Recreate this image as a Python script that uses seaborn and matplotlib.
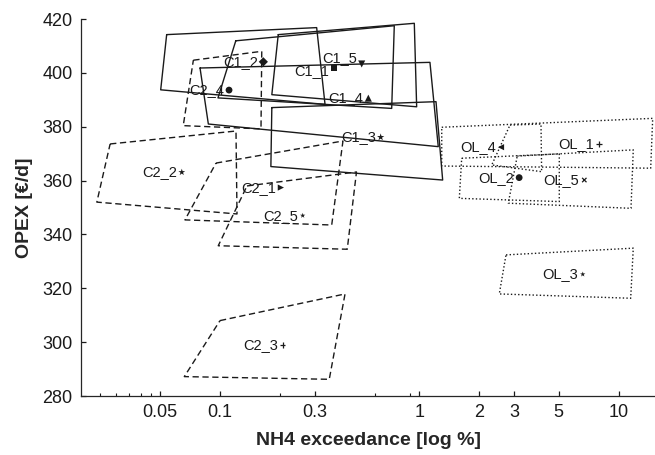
import matplotlib
matplotlib.use("Agg")
import matplotlib.pyplot as plt
import matplotlib.ticker as mticker
import seaborn as sns
import pandas as pd

# ---- data -------------------------------------------------------------
names = ['C1_1', 'C1_2', 'C1_3', 'C1_4', 'C1_5',
         'C2_1', 'C2_2', 'C2_3', 'C2_4', 'C2_5',
         'OL_1', 'OL_2', 'OL_3', 'OL_4', 'OL_5']
groups = ['C1'] * 5 + ['C2'] * 5 + ['OL'] * 5

nh4 = [0.373, 0.165, 0.640, 0.555, 0.514,
       0.202, 0.0643, 0.206, 0.111, 0.260,
       8.0, 3.17, 6.61, 2.57, 6.73]
opex = [401.7, 404.1, 376.1, 390.6, 403.3,
        357.4, 363.1, 298.9, 393.6, 347.0,
        373.5, 361.1, 325.2, 372.4, 360.2]

# uncertainty polygons (4 corners each, same order as names)
poly_nh4 = [
    [0.196, 0.944, 0.970, 0.182],
    [0.054, 0.3055, 0.3365, 0.0504],
    [0.182, 1.213, 1.31, 0.180],
    [0.0794, 1.131, 1.245, 0.0874],
    [0.120, 0.749, 0.727, 0.0977],
    [0.0955, 0.414, 0.3635, 0.0667],
    [0.0281, 0.1203, 0.1217, 0.0241],
    [0.100, 0.424, 0.3534, 0.0662],
    [0.0735, 0.162, 0.1606, 0.0654],
    [0.1366, 0.484, 0.435, 0.098],
    [1.296, 14.83, 14.49, 1.296],
    [1.632, 5.04, 5.04, 1.588],
    [2.723, 11.85, 11.5, 2.52],
    [2.851, 4.08, 4.11, 2.31],
    [3.10, 11.85, 11.54, 2.797],
]
poly_opex = [
    [414.2, 418.4, 387.4, 391.9],
    [414.2, 416.8, 388.3, 393.7],
    [387.1, 389.3, 360.2, 365.2],
    [401.8, 403.9, 372.6, 381.0],
    [411.9, 417.5, 386.8, 390.7],
    [366.5, 374.7, 343.5, 345.4],
    [373.6, 378.4, 347.6, 352.0],
    [308.0, 317.9, 286.2, 287.2],
    [404.7, 408.0, 379.2, 380.4],
    [358.0, 363.2, 334.5, 335.8],
    [379.8, 383.1, 364.6, 365.4],
    [368.3, 369.9, 352.2, 353.4],
    [332.4, 334.9, 316.3, 317.9],
    [380.6, 381.0, 363.3, 365.8],
    [369.1, 371.4, 349.7, 351.6],
]

x_major = [0.05, 0.1, 0.3, 1, 2, 3, 5, 10]
x_major_labels = ['0.05', '0.1', '0.3', '1', '2', '3', '5', '10']
x_minor = [0.025, 0.03, 0.035, 0.04, 0.045, 0.2, 0.6, 0.9]
y_ticks = [280, 300, 320, 340, 360, 380, 400, 420]

# ---- style ------------------------------------------------------------
markers = {'C1_1': 's', 'C1_2': 'D', 'C1_3': '*', 'C1_4': '^', 'C1_5': 'v',
           'C2_1': '>', 'C2_2': '*', 'C2_3': '+', 'C2_4': 'o', 'C2_5': '*',
           'OL_1': '+', 'OL_2': 'o', 'OL_3': '*', 'OL_4': '<', 'OL_5': 'x'}
msize = {'C1_1': 18, 'C1_2': 22, 'C1_3': 30, 'C1_4': 26, 'C1_5': 26,
         'C2_1': 20, 'C2_2': 26, 'C2_3': 16, 'C2_4': 24, 'C2_5': 16,
         'OL_1': 16, 'OL_2': 24, 'OL_3': 16, 'OL_4': 20, 'OL_5': 10}
# label offsets in points (dx, dy)
label_offset = {'C1_1': (-3.5, -1.8), 'C1_5': (-3.5, 4.5)}

sns.set_theme(style='ticks')
plt.rcParams['font.family'] = ['Liberation Sans', 'DejaVu Sans']
plt.rcParams['axes.linewidth'] = 0.9

fig = plt.figure(figsize=(6.55, 4.55), dpi=100)
ax = fig.add_axes([81 / 655, 59 / 455, (655 - 81) / 655, 377 / 455])

# polygons as closed lines
rows = []
for n, g, xs, ys in zip(names, groups, poly_nh4, poly_opex):
    for i, (xv, yv) in enumerate(zip(xs + xs[:1], ys + ys[:1])):
        rows.append({'name': n, 'group': g, 'order': i, 'x': xv, 'y': yv})
poly_df = pd.DataFrame(rows)
sns.lineplot(data=poly_df, x='x', y='y', units='name', estimator=None,
             sort=False, style='group',
             dashes={'C1': '', 'C2': (4.5, 2.6), 'OL': (1.0, 1.6)},
             color='#1a1a1a', linewidth=1.0, legend=False, ax=ax)

# points
pts = pd.DataFrame({'name': names, 'x': nh4, 'y': opex})
line_art = {'+', 'x'}
filled = pts[[markers[n] not in line_art for n in names]]
unfilled = pts[[markers[n] in line_art for n in names]]
sns.scatterplot(data=filled, x='x', y='y', style='name',
                markers={n: markers[n] for n in filled['name']},
                size='name', sizes={n: msize[n] for n in filled['name']},
                color='#1a1a1a', linewidth=0, legend=False, ax=ax)
sns.scatterplot(data=unfilled, x='x', y='y', style='name',
                markers={n: markers[n] for n in unfilled['name']},
                size='name', sizes={n: msize[n] for n in unfilled['name']},
                color='#1a1a1a', linewidth=0.9, legend=False, ax=ax)

for n, xv, yv in zip(names, nh4, opex):
    ax.annotate(n, (xv, yv), xytext=label_offset.get(n, (-3.5, 0)),
                textcoords='offset points',
                ha='right', va='center', fontsize=10.5, color='#1a1a1a')

# axes
ax.set_xscale('log')
ax.set_xlim(0.02007, 15.23)
ax.set_ylim(280, 420)
ax.xaxis.set_major_locator(mticker.FixedLocator(x_major))
ax.xaxis.set_major_formatter(mticker.FixedFormatter(x_major_labels))
ax.xaxis.set_minor_locator(mticker.FixedLocator(x_minor))
ax.xaxis.set_minor_formatter(mticker.NullFormatter())
ax.set_yticks(y_ticks)
ax.tick_params(axis='both', which='major', direction='in', length=3.5,
               width=0.9, labelsize=13, colors='#1a1a1a', pad=6)
ax.tick_params(axis='x', which='minor', direction='in', length=2,
               width=0.8, colors='#1a1a1a')
ax.tick_params(axis='y', which='minor', left=False)
sns.despine(ax=ax)

ax.set_xlabel('NH4 exceedance [log %]', fontsize=14, fontweight='bold',
              labelpad=8)
ax.set_ylabel('OPEX [€/d]', fontsize=14, fontweight='bold', labelpad=7)

fig.savefig('out.png', dpi=100)
